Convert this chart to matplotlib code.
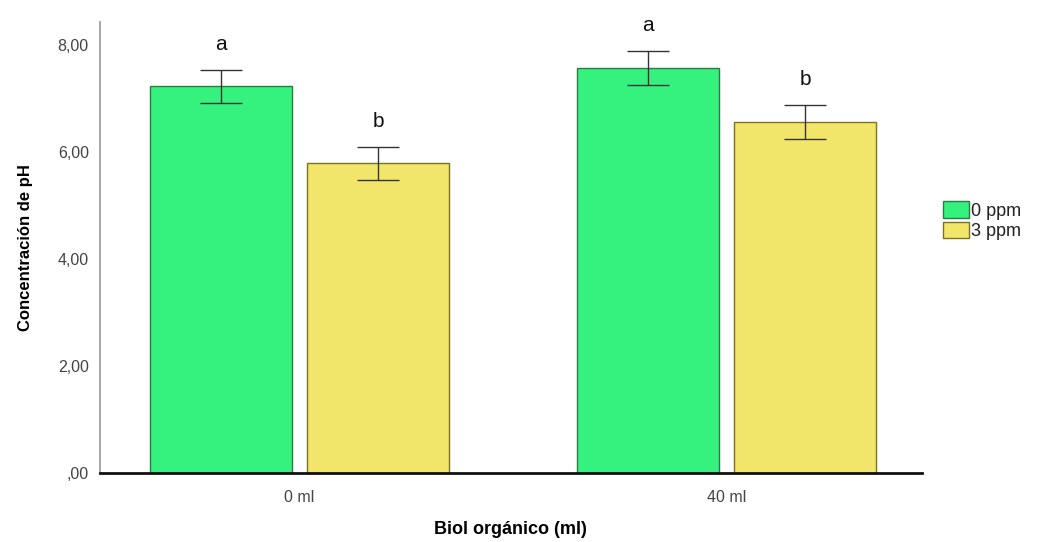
import matplotlib.pyplot as plt
import numpy as np

plt.rcParams['font.family'] = ['Liberation Sans', 'DejaVu Sans']

groups = ["0 ml", "40 ml"]
series = ["0 ppm", "3 ppm"]
means = {"0 ppm": [7.23, 7.57], "3 ppm": [5.79, 6.56]}
errs = {"0 ppm": [0.31, 0.32], "3 ppm": [0.31, 0.32]}
letters = {"0 ppm": ["a", "a"], "3 ppm": ["b", "b"]}
yticks = [0, 2, 4, 6, 8]
ytick_labels = [",00", "2,00", "4,00", "6,00", "8,00"]

colors = {"0 ppm": "#35f27f", "3 ppm": "#f2e66a"}
edges = {"0 ppm": "#2d7a45", "3 ppm": "#7d7125"}

fig = plt.figure(figsize=(10.37, 5.42), dpi=100)
ax = fig.add_axes([0.0964, 0.127, 0.7926, 0.832])

x = np.arange(len(groups))
width = 0.333
offsets = [-0.184, 0.184]
for i, s in enumerate(series):
    pos = x + offsets[i]
    ax.bar(pos, means[s], width, color=colors[s], edgecolor=edges[s],
           linewidth=1, label=s, zorder=2)
    ax.errorbar(pos, means[s], yerr=errs[s], fmt="none", ecolor="#333333",
                elinewidth=1, capsize=15, capthick=1, zorder=3)
    for p, m, e, t in zip(pos, means[s], errs[s], letters[s]):
        ax.text(p, m + e + 0.3, t, ha="center", va="bottom", fontsize=15,
                color="#111111")

ax.set_xlim(-0.467, 1.457)
ax.set_ylim(0, 8.43)
ax.set_xticks(x)
ax.set_xticklabels(groups, fontsize=11.5, color="#444444")
ax.set_yticks(yticks)
ax.set_yticklabels(ytick_labels, fontsize=11.5, color="#444444")
ax.tick_params(axis="x", length=0, pad=12)
ax.tick_params(axis="y", length=0, pad=8)

for sp in ["top", "right"]:
    ax.spines[sp].set_visible(False)
ax.spines["left"].set_color("#aaaaaa")
ax.spines["left"].set_linewidth(1.5)
ax.spines["bottom"].set_color("#111111")
ax.spines["bottom"].set_linewidth(2)

ax.set_ylabel("Concentración de pH", fontsize=12, fontweight="bold",
              labelpad=18)
ax.set_xlabel("Biol orgánico (ml)", fontsize=13, fontweight="bold",
              labelpad=12)

leg = ax.legend(loc="center left", bbox_to_anchor=(1.015, 0.56), frameon=False,
                fontsize=13, handlelength=1.4, handleheight=1.0,
                handletextpad=0.15, labelspacing=0.1, borderpad=0)
for t in leg.get_texts():
    t.set_color("#222222")

fig.savefig("out.png", dpi=100)
